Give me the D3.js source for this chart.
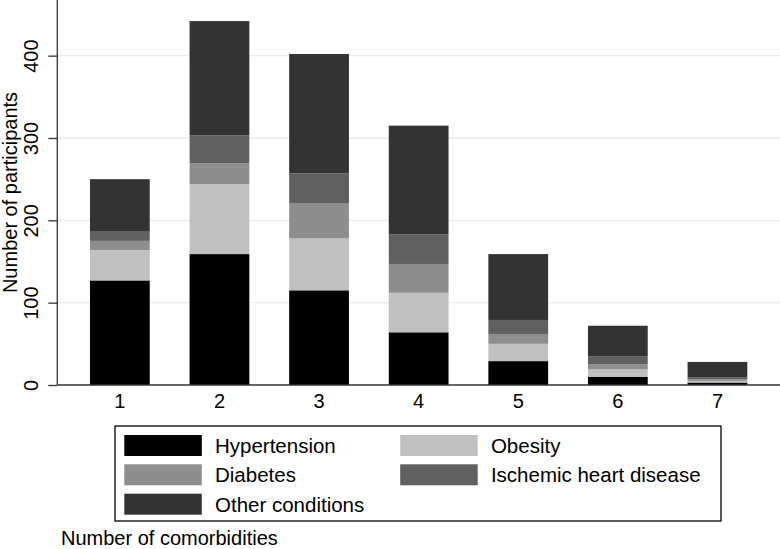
<!DOCTYPE html>
<html>
<head>
<meta charset="utf-8">
<script src="https://cdn.jsdelivr.net/npm/d3@7"></script>
<style>
    body { margin: 0; background: #fff; }
    svg { display: block; font-family: "Liberation Sans", Arial, sans-serif; }
    .axis path, .axis line { stroke: #333; stroke-width: 1.3; }
    .axis text { font-size: 20px; fill: #000; }
    .grid line { stroke: #e6eef0; stroke-width: 1.3; }
</style>
</head>
<body>
<div id="chart"></div>
<script>

// Number of comorbidities (x categories)
var categories = ["1", "2", "3", "4", "5", "6", "7"];

// Participants per condition, stacked bottom to top
var hypertension = [127, 159, 115, 64, 29, 10, 3];
var obesity      = [37, 85, 63, 48, 21, 9, 2];
var diabetes     = [11, 25, 43, 35, 12, 6, 2];
var ischemic     = [12, 34, 36, 36, 17, 10, 2];
var other        = [63, 139, 145, 132, 80, 37, 19];

var seriesNames = ["Hypertension", "Obesity", "Diabetes", "Ischemic heart disease", "Other conditions"];
var yTicks = [0, 100, 200, 300, 400];

var colors = {
    "Hypertension": "#000000",
    "Obesity": "#c0c0c0",
    "Diabetes": "#8e8e8e",
    "Ischemic heart disease": "#606060",
    "Other conditions": "#333333"
};

var width = 780, height = 549;
var margin = { top: 0, right: 0, bottom: 164, left: 57.3 };
var plotH = height - margin.top - margin.bottom;   // 385

// table for d3.stack
var table = categories.map(function(c, i) {
    return {
        cat: c,
        "Hypertension": hypertension[i],
        "Obesity": obesity[i],
        "Diabetes": diabetes[i],
        "Ischemic heart disease": ischemic[i],
        "Other conditions": other[i]
    };
});

var svg = d3.select("#chart").append("svg")
    .attr("width", width)
    .attr("height", height);

// Scales
var x = d3.scaleBand()
    .domain(categories)
    .range([margin.left, width])
    .paddingInner(0.4)
    .paddingOuter(0.328);

var y = d3.scaleLinear()
    .domain([0, 467.6])
    .range([plotH, 0]);

// Gridlines
svg.append("g")
    .attr("class", "grid")
    .selectAll("line")
    .data(yTicks.filter(function(d) { return d > 0; }))
    .enter().append("line")
    .attr("x1", margin.left)
    .attr("x2", width)
    .attr("y1", function(d) { return y(d); })
    .attr("y2", function(d) { return y(d); });

// Stacked bars
var stacked = d3.stack().keys(seriesNames)(table);

svg.append("g")
    .selectAll("g")
    .data(stacked)
    .enter().append("g")
    .attr("fill", function(d) { return colors[d.key]; })
    .selectAll("rect")
    .data(function(d) { return d; })
    .enter().append("rect")
    .attr("x", function(d) { return x(d.data.cat); })
    .attr("width", x.bandwidth())
    .attr("y", function(d) { return y(d[1]); })
    .attr("height", function(d) { return y(d[0]) - y(d[1]); });

// Y axis
var yAxis = d3.axisLeft(y)
    .tickValues(yTicks)
    .tickSize(9)
    .tickSizeOuter(0)
    .tickPadding(0);

var gy = svg.append("g")
    .attr("class", "axis y-axis")
    .attr("transform", "translate(" + margin.left + ",0)")
    .call(yAxis);

gy.select(".domain").attr("d", "M0," + y.range()[1] + "V" + y.range()[0]);

gy.selectAll(".tick text")
    .attr("x", 0)
    .attr("dy", 0)
    .attr("text-anchor", "middle")
    .attr("transform", "translate(-19.5,0) rotate(-90)");

// X axis
var xAxis = d3.axisBottom(x)
    .tickSize(0)
    .tickSizeOuter(0)
    .tickPadding(0);

var gx = svg.append("g")
    .attr("class", "axis x-axis")
    .attr("transform", "translate(0," + plotH + ")")
    .call(xAxis);

gx.select(".domain").attr("d", "M" + margin.left + ",0H" + width);

gx.selectAll(".tick text")
    .attr("y", 23)
    .attr("dy", 0);

// Axis titles
svg.append("text")
    .attr("transform", "translate(17,192.5) rotate(-90)")
    .attr("text-anchor", "middle")
    .style("font-size", "20px")
    .text("Number of participants");

svg.append("text")
    .attr("x", 61)
    .attr("y", 545)
    .style("font-size", "20px")
    .text("Number of comorbidities");

// Legend
var legend = svg.append("g").attr("class", "legend");

legend.append("rect")
    .attr("x", 115)
    .attr("y", 426)
    .attr("width", 606)
    .attr("height", 95)
    .attr("fill", "#fff")
    .attr("stroke", "#000")
    .attr("stroke-width", 1.3);

var colX = [124.3, 400.2];
var rowY = [435, 464.3, 493.7];

var items = legend.selectAll(".item")
    .data(seriesNames)
    .enter().append("g")
    .attr("class", "item")
    .attr("transform", function(d, i) {
        return "translate(" + colX[i % 2] + "," + rowY[Math.floor(i / 2)] + ")";
    });

items.append("rect")
    .attr("width", 77.5)
    .attr("height", 21)
    .attr("fill", function(d) { return colors[d]; });

items.append("text")
    .attr("x", 90.7)
    .attr("y", 18)
    .style("font-size", "20.5px")
    .text(function(d) { return d; });

</script>
</body>
</html>
